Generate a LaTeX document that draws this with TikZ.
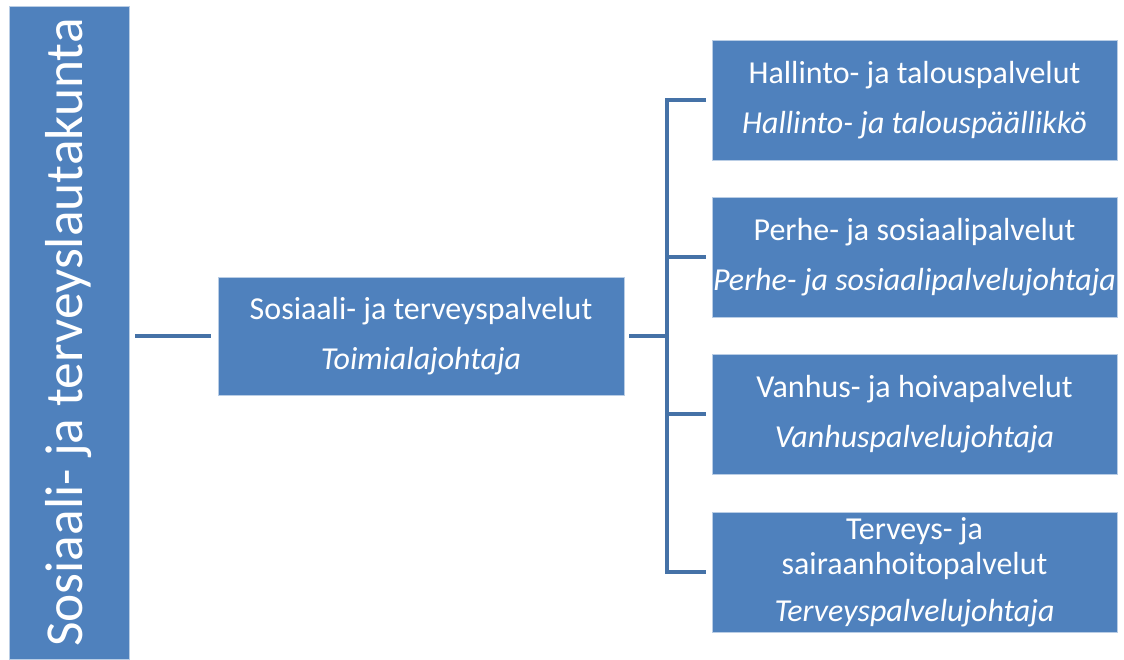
\documentclass[tikz,border=0pt]{standalone}
\usepackage{fontspec}
\setmainfont{Carlito}
\usepackage{tikz}
\definecolor{laatikko}{RGB}{79,129,189}
\definecolor{reuna}{RGB}{185,205,229}
\definecolor{viiva}{RGB}{69,114,167}

\begin{document}
\begin{tikzpicture}[x=0.02cm,y=-0.02cm,
  yksikko/.style={draw=reuna,line width=0.4pt,fill=laatikko,text=white,align=center,inner sep=0pt,
    minimum width=8.1cm,minimum height=2.4cm,font=\fontsize{18.2}{20}\selectfont},
  yhteys/.style={draw=viiva,line width=2.3pt}]
  \useasboundingbox (0,0) rectangle (1124,659);
  % lautakunta ja toimiala
  \node[yksikko,rotate=90,minimum width=13.06cm,minimum height=2.4cm,font=\fontsize{30.4}{34}\selectfont]
    (lautakunta) at (69,332.5) {Sosiaali- ja terveyslautakunta};
  \node[yksikko,minimum width=8.12cm,minimum height=2.36cm] (toimiala) at (421,336)
    {Sosiaali- ja terveyspalvelut\\[8.4pt]\textit{Toimialajohtaja}};
  % palvelualueet
  \node[yksikko] (hallinto) at (914.5,100) {Hallinto- ja talouspalvelut\\[8.4pt]\textit{Hallinto- ja talouspäällikkö}};
  \node[yksikko] (perhe) at (914.5,257) {Perhe- ja sosiaalipalvelut\\[8.4pt]\textit{Perhe- ja sosiaalipalvelujohtaja}};
  \node[yksikko] (vanhus) at (914.5,414) {Vanhus- ja hoivapalvelut\\[8.4pt]\textit{Vanhuspalvelujohtaja}};
  \node[yksikko] (terveys) at (914.5,572) {Terveys- ja\\sairaanhoitopalvelut\\[6.7pt]\textit{Terveyspalvelujohtaja}};
  \coordinate (runko) at (667,336);
  % yhteydet
  \draw[yhteys,shorten <=0.12cm,shorten >=0.14cm] (lautakunta.south |- toimiala.west) -- (toimiala.west);
  \draw[yhteys,shorten <=0.1cm] (toimiala.east) -- (runko);
  \draw[yhteys,shorten <=0.11cm,shorten >=0.11cm] (hallinto.west) -| (runko |- terveys.west) -- (terveys.west);
  \draw[yhteys,shorten >=0.11cm] (runko |- perhe.west) -- (perhe.west);
  \draw[yhteys,shorten >=0.11cm] (runko |- vanhus.west) -- (vanhus.west);
\end{tikzpicture}
\end{document}
